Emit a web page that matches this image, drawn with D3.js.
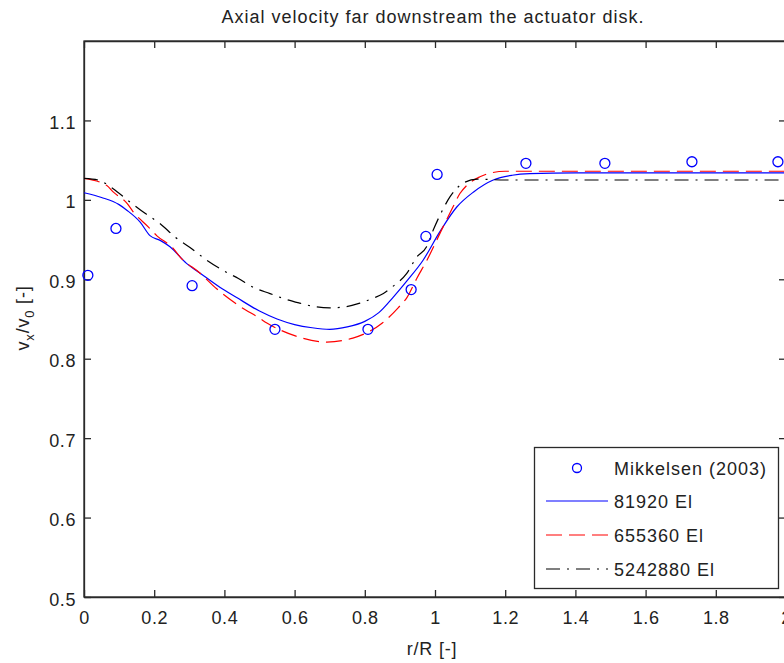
<!DOCTYPE html>
<html><head><meta charset="utf-8">
<script src="https://cdn.jsdelivr.net/npm/d3@7"></script>
<style>
body{margin:0;background:#fff;}
text{font-family:"Liberation Sans",Arial,Helvetica,sans-serif;fill:#222;}
</style>
</head><body>
<svg id="c" width="784" height="663"></svg>
<script>
const titleText = "Axial velocity far downstream the actuator disk.";
const xLabel = "r/R [-]";
const xTicks = [0,0.2,0.4,0.6,0.8,1,1.2,1.4,1.6,1.8,2];
const yTicks = [0.5,0.6,0.7,0.8,0.9,1.0,1.1];
const seriesNames = ["Mikkelsen (2003)","81920 El","655360 El","5242880 El"];

// Mikkelsen (2003) measurements
const expR = [0.011,0.091,0.308,0.544,0.809,0.932,0.974,1.006,1.259,1.484,1.732,1.977];
const expV = [0.905,0.964,0.892,0.837,0.837,0.887,0.954,1.032,1.046,1.046,1.048,1.048];

// 81920 El
const r1 = [0,0.05,0.1,0.122,0.16,0.188,0.217,0.245,0.292,0.33,0.387,0.435,0.5,0.55,0.6,0.65,0.7,0.75,0.8,0.84,0.88,0.92,0.966,1.014,1.062,1.11,1.166,1.22,1.27,1.4,2.0];
const v1 = [1.009,1.003,0.994,0.987,0.972,0.955,0.949,0.941,0.920,0.908,0.890,0.877,0.860,0.850,0.843,0.839,0.837,0.840,0.847,0.858,0.877,0.898,0.924,0.960,0.991,1.010,1.025,1.031,1.033,1.034,1.034];

// 655360 El
const r2 = [0,0.065,0.083,0.122,0.14,0.183,0.207,0.254,0.274,0.33,0.378,0.444,0.5,0.521,0.6,0.692,0.766,0.85,0.895,0.92,0.948,0.977,1.023,1.05,1.071,1.09,1.128,1.16,1.2,2.0];
const v2 = [1.027,1.018,1.010,0.996,0.985,0.966,0.955,0.939,0.928,0.908,0.888,0.866,0.851,0.845,0.829,0.821,0.826,0.845,0.864,0.877,0.901,0.924,0.966,0.990,1.008,1.018,1.029,1.034,1.036,1.036];

// 5242880 El
const r3 = [0,0.04,0.083,0.126,0.174,0.217,0.26,0.302,0.35,0.397,0.44,0.482,0.53,0.567,0.615,0.652,0.70,0.738,0.786,0.823,0.853,0.877,0.919,0.948,0.976,0.995,1.019,1.043,1.08,1.12,1.2,2.0];
const v3 = [1.027,1.025,1.014,0.999,0.983,0.970,0.953,0.940,0.924,0.911,0.901,0.890,0.882,0.876,0.870,0.866,0.864,0.865,0.870,0.876,0.882,0.890,0.907,0.928,0.941,0.962,0.985,1.004,1.021,1.026,1.025,1.025];

const svg = d3.select("#c");
const x = d3.scaleLinear().domain([0,2]).range([84,786]);
const y = d3.scaleLinear().domain([0.5,1.2]).range([597,41]);
const axisColor = "#2a2a2a";

// frame
svg.append("rect").attr("x",x(0)).attr("y",y(1.2)).attr("width",x(2)-x(0)).attr("height",y(0.5)-y(1.2))
  .attr("fill","#fff").attr("stroke",axisColor).attr("stroke-width",1.3);

const fmt = d => d3.format("")(+d.toFixed(1));
function styleAxis(g){
  g.select(".domain").attr("stroke",axisColor).attr("stroke-width",1.3);
  g.selectAll(".tick line").attr("stroke",axisColor).attr("stroke-width",1.3);
  g.selectAll(".tick text").attr("fill","#222").style("font-size","18px")
    .style("font-family","'Liberation Sans',Arial,sans-serif").style("letter-spacing","0.6px");
}
svg.append("g").attr("transform",`translate(0,${y(0.5)})`)
  .call(d3.axisBottom(x).tickValues(xTicks).tickSize(-7).tickSizeOuter(0).tickPadding(14).tickFormat(fmt))
  .call(styleAxis);
svg.append("g").attr("transform",`translate(0,${y(1.2)})`)
  .call(d3.axisTop(x).tickValues(xTicks).tickSize(-7).tickSizeOuter(0).tickFormat(""))
  .call(styleAxis);
svg.append("g").attr("transform",`translate(${x(0)},0)`)
  .call(d3.axisLeft(y).tickValues(yTicks).tickSize(-7).tickSizeOuter(0).tickPadding(8).tickFormat(fmt))
  .call(styleAxis)
  .selectAll(".tick text").attr("dy","0.45em");
svg.append("g").attr("transform",`translate(${x(2)},0)`)
  .call(d3.axisRight(y).tickValues(yTicks).tickSize(-7).tickSizeOuter(0).tickFormat(""))
  .call(styleAxis);

// lines
const line = d3.line().x(d=>x(d[0])).y(d=>y(d[1])).curve(d3.curveMonotoneX);
const styles = [
  {r:r1,v:v1,color:"#0000ff",dash:null},
  {r:r2,v:v2,color:"#ff0000",dash:"16,7"},
  {r:r3,v:v3,color:"#000000",dash:"14,7,2,7"}
];
styles.forEach(s=>{
  svg.append("path").datum(s.r.map((r,i)=>[r,s.v[i]]))
    .attr("d",line).attr("fill","none").attr("stroke",s.color).attr("stroke-width",1.2)
    .attr("stroke-dasharray",s.dash);
});

// experimental points
svg.append("g").selectAll("circle").data(expR.map((r,i)=>[r,expV[i]])).join("circle")
  .attr("cx",d=>x(d[0])).attr("cy",d=>y(d[1])).attr("r",5)
  .attr("fill","none").attr("stroke","#0000ff").attr("stroke-width",1.3);

// title & labels
svg.append("text").attr("x",433).attr("y",23).attr("text-anchor","middle")
  .style("font-size","18px").style("letter-spacing","1px").text(titleText);
svg.append("text").attr("x",432).attr("y",655).attr("text-anchor","middle")
  .style("font-size","18px").style("letter-spacing","0.8px").text(xLabel);
const yl = svg.append("text").attr("transform","translate(29,318) rotate(-90)")
  .attr("text-anchor","middle").style("font-size","18px").style("letter-spacing","0.8px");
yl.append("tspan").text("v");
yl.append("tspan").attr("dy",5).style("font-size","13px").text("x");
yl.append("tspan").attr("dy",-5).text("/v");
yl.append("tspan").attr("dy",5).style("font-size","13px").text("0");
yl.append("tspan").attr("dy",-5).text(" [-]");

// legend
const lg = svg.append("g");
lg.append("rect").attr("x",534.5).attr("y",447.5).attr("width",244).attr("height",141)
  .attr("fill","#fff").attr("stroke",axisColor).attr("stroke-width",1.3);
const rowsY = [468,501,535,569];
lg.append("circle").attr("cx",577).attr("cy",rowsY[0]).attr("r",4.5)
  .attr("fill","none").attr("stroke","#0000ff").attr("stroke-width",1.3);
styles.forEach((s,i)=>{
  lg.append("line").attr("x1",546).attr("x2",608).attr("y1",rowsY[i+1]).attr("y2",rowsY[i+1])
    .attr("stroke",s.color).attr("stroke-width",1.2).attr("stroke-dasharray",s.dash);
});
seriesNames.forEach((n,i)=>{
  lg.append("text").attr("x",614).attr("y",rowsY[i]+6.5).style("font-size","18px")
    .style("letter-spacing","1px").text(n);
});
</script>
</body></html>
